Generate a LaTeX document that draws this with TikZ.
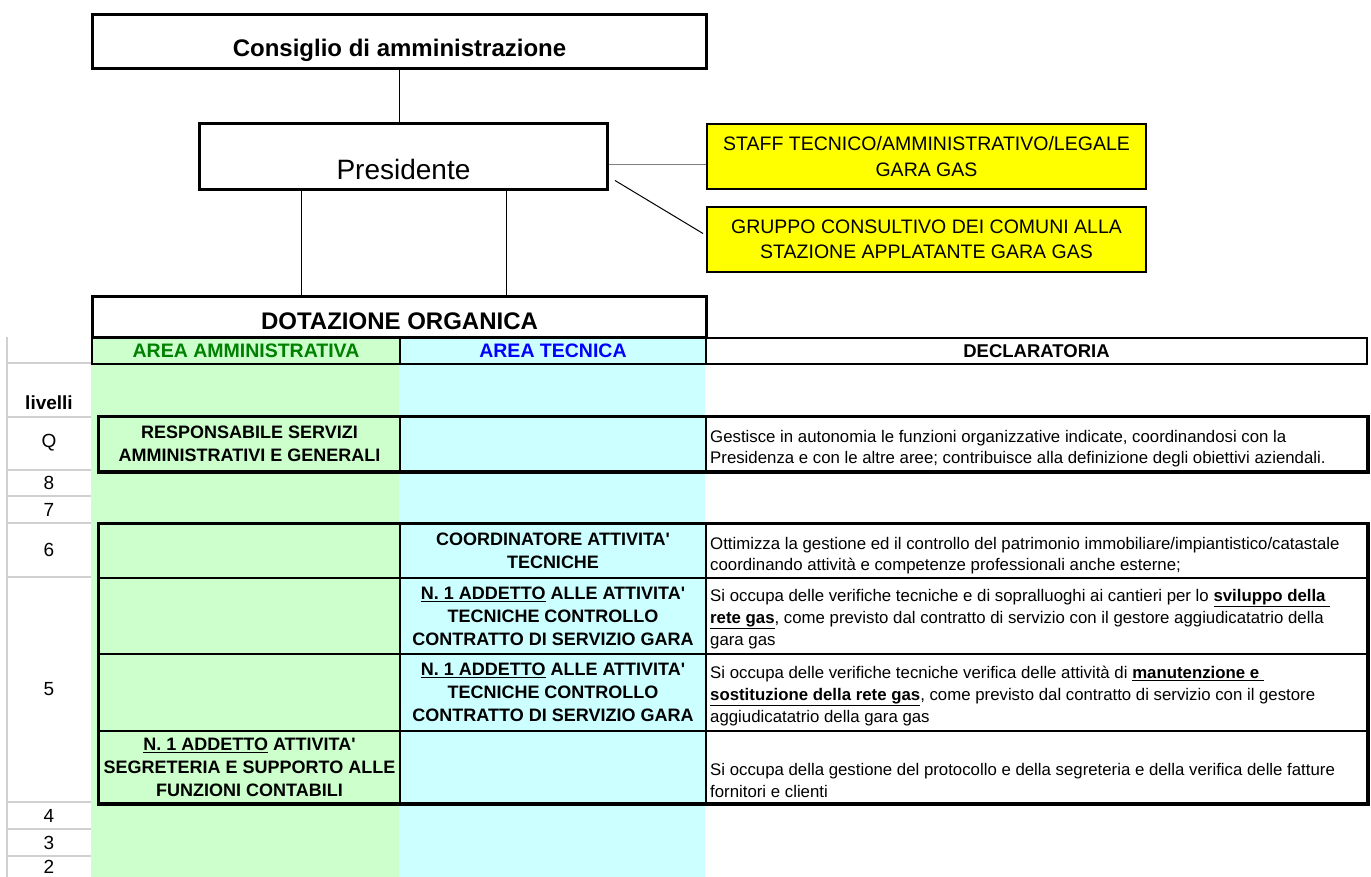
\documentclass[tikz,border=0pt]{standalone}
\usepackage{fontspec}
\setmainfont{Liberation Sans}
\usetikzlibrary{positioning}

\definecolor{verdecella}{HTML}{CCFFCC}
\definecolor{azzurrocella}{HTML}{CCFFFF}
\definecolor{giallostaff}{HTML}{FFFF00}
\definecolor{verdetitolo}{HTML}{008000}
\definecolor{bluetitolo}{HTML}{0000FF}
\definecolor{grigiolivelli}{HTML}{D0D0D0}

\newcommand{\titolofont}{\fontsize{24}{28}\selectfont\bfseries}
\newcommand{\presfont}{\fontsize{28}{32}\selectfont}
\newcommand{\stafffont}{\fontsize{19.5}{25.5}\selectfont}
\newcommand{\testatafont}{\fontsize{18.5}{22}\selectfont\bfseries}
\newcommand{\cellafont}{\fontsize{18}{23}\selectfont\bfseries}
\newcommand{\declfont}{\fontsize{16.8}{21}\selectfont}
\newcommand{\livfont}{\fontsize{19}{22}\selectfont}
\newcommand{\addetto}{\underline{N. 1 ADDETTO}}
\newcommand{\apice}{\textquotesingle}
\newcommand{\evid}[1]{\underline{\textbf{#1}}}

\tikzset{
  orgbox/.style={draw, line width=3pt, fill=white, inner sep=0pt, anchor=north west},
  staffbox/.style={draw, line width=2pt, fill=giallostaff, align=center, font=\stafffont,
    minimum width=439pt, minimum height=65pt, inner sep=0pt, anchor=north west},
  cella/.style={draw, line width=2pt, inner sep=0pt, anchor=north west, align=center, font=\cellafont},
  declcella/.style={draw, line width=2pt, inner sep=0pt, anchor=north west, minimum width=661pt},
  decltesto/.style={anchor=south west, align=left, font=\declfont, inner sep=0pt},
  livello/.style={font=\livfont},
  grigia/.style={draw=grigiolivelli, line width=2pt},
}

\begin{document}
\begin{tikzpicture}[x=1pt, y=-1pt]
\useasboundingbox (0,0) rectangle (1371,877);

% sfondi delle due aree
\fill[verdecella] (91,337) rectangle (399,877);
\fill[azzurrocella] (399,337) rectangle (705,877);

% griglia dei livelli
\draw[grigia] (7,337) -- (7,877);
\foreach \y in {363,417,470,496,523,577,802,829,856}
  \draw[grigia] (7,\y) -- (91,\y);

% organigramma
\node[orgbox, minimum width=614pt, minimum height=54pt] (cda) at (91,13) {};
\node[font=\titolofont] (cdatesto) at ([yshift=-9pt]cda.center) {Consiglio di amministrazione};
\node[orgbox, minimum width=408pt, minimum height=66pt] (pres) at (198,122) {};
\node[font=\presfont] (prestesto) at ([yshift=-13pt]pres.center) {Presidente};
\node[staffbox] (staff) at (706,123) {STAFF TECNICO/AMMINISTRATIVO/LEGALE\\GARA GAS};
\node[staffbox] (gruppo) at (706,206) {GRUPPO CONSULTIVO DEI COMUNI ALLA\\STAZIONE APPLATANTE GARA GAS};

\draw[line width=1.2pt] (cda.south) -- (cda.south |- pres.north);
\draw[gray, line width=1.2pt] ([yshift=-8pt]pres.east) -- ([yshift=-8pt]pres.east -| staff.west);
\draw[line width=1pt] ([xshift=6pt,yshift=-24pt]pres.east) -- ([xshift=-3pt,yshift=6pt]gruppo.west);

% intestazione tabella
\node[cella, fill=verdecella, minimum width=308pt, minimum height=26pt, font=\testatafont\fontsize{19.5}{22}\selectfont, text=verdetitolo] (areaamm) at (91,337) {AREA AMMINISTRATIVA};
\node[cella, fill=azzurrocella, minimum width=306pt, minimum height=26pt, font=\testatafont\fontsize{19.5}{22}\selectfont, text=bluetitolo] (areatec) at (399,337) {AREA TECNICA};
\node[cella, minimum width=661pt, minimum height=26pt, font=\testatafont] (declar) at (705,337) {DECLARATORIA};
\node[orgbox, minimum width=614pt, minimum height=41pt] (dot) at (91,295) {};
\node[font=\titolofont] (dottesto) at ([yshift=-4pt]dot.center) {DOTAZIONE ORGANICA};

\draw[line width=1.6pt] ([xshift=-102pt]pres.south) -- ([xshift=-102pt]pres.south |- dot.north);
\draw[line width=1.6pt] ([xshift=103pt]pres.south) -- ([xshift=103pt]pres.south |- dot.north);

% livelli
\node[livello, font=\livfont\bfseries] (livelli) at (49,403) {livelli};
\node[livello] (lq) at (49,443) {Q};
\node[livello] (l8) at (49,483) {8};
\node[livello] (l7) at (49,510) {7};
\node[livello] (l6) at (49,550) {6};
\node[livello] (l5) at (49,689) {5};
\node[livello] (l4) at (49,816) {4};
\node[livello] (l3) at (49,843) {3};
\node[livello] (l2) at (49,867) {2};

% livello Q
\node[cella, minimum width=301pt, minimum height=54pt] (qamm) at (98,416) {RESPONSABILE SERVIZI\\AMMINISTRATIVI E GENERALI};
\node[cella, minimum width=306pt, minimum height=54pt] (qtec) at (399,416) {};
\node[declcella, minimum height=54pt] (qdecl) at (705,416) {};
\node[decltesto] (qtesto) at ([xshift=5pt,yshift=5pt]qdecl.south west) {Gestisce in autonomia le funzioni organizzative indicate, coordinandosi con la\\Presidenza e con le altre aree; contribuisce alla definizione degli obiettivi aziendali.};
\draw[line width=3pt] (qamm.north west) rectangle (qdecl.south east);

% livello 6
\node[cella, minimum width=301pt, minimum height=54pt] (samm) at (98,523) {};
\node[cella, minimum width=306pt, minimum height=54pt] (stec) at (399,523) {COORDINATORE ATTIVITA\apice\\TECNICHE};
\node[declcella, minimum height=54pt] (sdecl) at (705,523) {};
\node[decltesto] (stesto) at ([xshift=5pt,yshift=5pt]sdecl.south west) {Ottimizza la gestione ed il controllo del patrimonio immobiliare/impiantistico/catastale\\coordinando attività e competenze professionali anche esterne;};

% livello 5
\node[cella, minimum width=301pt, minimum height=76pt] (camm) at (98,577) {};
\node[cella, minimum width=306pt, minimum height=76pt] (ctec) at (399,577) {\addetto{} ALLE ATTIVITA\apice\\TECNICHE CONTROLLO\\CONTRATTO DI SERVIZIO GARA};
\node[declcella, minimum height=76pt] (cdecl) at (705,577) {};
\node[decltesto, font=\declfont\fontsize{16.8}{22}\selectfont] (ctesto) at ([xshift=5pt,yshift=6pt]cdecl.south west) {Si occupa delle verifiche tecniche e di sopralluoghi ai cantieri per lo \evid{sviluppo della }\\\evid{rete gas}, come previsto dal contratto di servizio con il gestore aggiudicatatrio della\\gara gas};
\node[cella, minimum width=301pt, minimum height=77pt] (mamm) at (98,653) {};
\node[cella, minimum width=306pt, minimum height=77pt] (mtec) at (399,653) {\addetto{} ALLE ATTIVITA\apice\\TECNICHE CONTROLLO\\CONTRATTO DI SERVIZIO GARA};
\node[declcella, minimum height=77pt] (mdecl) at (705,653) {};
\node[decltesto, font=\declfont\fontsize{16.8}{22}\selectfont] (mtesto) at ([xshift=5pt,yshift=6pt]mdecl.south west) {Si occupa delle verifiche tecniche verifica delle attività di \evid{manutenzione e }\\\evid{sostituzione della rete gas}, come previsto dal contratto di servizio con il gestore\\aggiudicatatrio della gara gas};
\node[cella, minimum width=301pt, minimum height=72pt] (gamm) at (98,730) {\addetto{} ATTIVITA\apice\\SEGRETERIA E SUPPORTO ALLE\\FUNZIONI CONTABILI};
\node[cella, minimum width=306pt, minimum height=72pt] (gtec) at (399,730) {};
\node[declcella, minimum height=72pt] (gdecl) at (705,730) {};
\node[decltesto, font=\declfont\fontsize{16.8}{22}\selectfont] (gtesto) at ([xshift=5pt,yshift=6pt]gdecl.south west) {Si occupa della gestione del protocollo e della segreteria e della verifica delle fatture\\fornitori e clienti};
\draw[line width=3pt] (samm.north west) rectangle (gdecl.south east);

\end{tikzpicture}
\end{document}
